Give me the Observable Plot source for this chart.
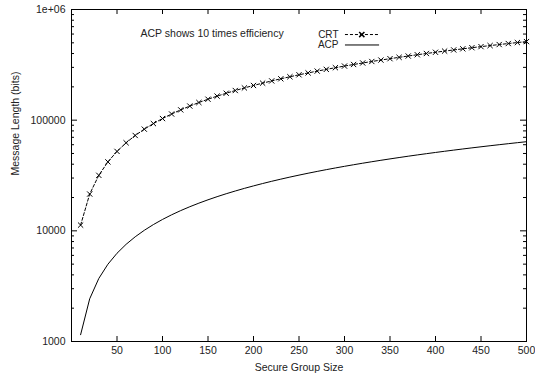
<!DOCTYPE html>
<html><head><meta charset="utf-8">
<script src="https://cdn.jsdelivr.net/npm/d3@7"></script>
<script src="https://cdn.jsdelivr.net/npm/@observablehq/plot@0.6"></script>
<style>body{margin:0;background:#fff}</style>
</head><body><div id="chart"></div>
<script>
const groupSize = [10,20,30,40,50,60,70,80,90,100,110,120,130,140,150,160,170,180,190,200,210,220,230,240,250,260,270,280,290,300,310,320,330,340,350,360,370,380,390,400,410,420,430,440,450,460,470,480,490,500];
const crtBits = [11264,21504,31744,41984,52224,62464,72704,82944,93184,103424,113664,123904,134144,144384,154624,164864,175104,185344,195584,205824,216064,226304,236544,246784,257024,267264,277504,287744,297984,308224,318464,328704,338944,349184,359424,369664,379904,390144,400384,410624,420864,431104,441344,451584,461824,472064,482304,492544,502784,513024];
const acpBits = [1152,2432,3712,4992,6272,7552,8832,10112,11392,12672,13952,15232,16512,17792,19072,20352,21632,22912,24192,25472,26752,28032,29312,30592,31872,33152,34432,35712,36992,38272,39552,40832,42112,43392,44672,45952,47232,48512,49792,51072,52352,53632,54912,56192,57472,58752,60032,61312,62592,63872];
const xTicks = [50,100,150,200,250,300,350,400,450,500];
const yMajor = [1000,10000,100000,1000000];
const yTickLabels = ["1000","10000","100000","1e+06"];
const yMinor = [2000,3000,4000,5000,6000,7000,8000,9000,20000,30000,40000,50000,60000,70000,80000,90000,200000,300000,400000,500000,600000,700000,800000,900000];
const seriesNames = ["CRT","ACP"];
const titleText = "ACP shows 10 times efficiency";
const xLabel = "Secure Group Size";
const yLabel = "Message Length (bits)";

const W = 535, H = 375, mL = 71, mR = 9, mT = 9, mB = 34;
const iW = W - mL - mR, iH = H - mT - mB;
const crt = groupSize.map((x, i) => ({x, y: crtBits[i]}));
const acp = groupSize.map((x, i) => ({x, y: acpBits[i]}));

const chart = Plot.plot({
  width: W, height: H,
  marginLeft: mL, marginRight: mR, marginTop: mT, marginBottom: mB,
  style: {fontFamily: "'Liberation Sans', Arial, Helvetica, sans-serif", fontSize: "10.5px", color: "black", background: "white"},
  x: {domain: [0, 500], label: null, axis: null},
  y: {type: "log", domain: [1000, 1000000], label: null, axis: null},
  marks: [
    Plot.axisX(xTicks, {tickSize: 0, tickPadding: 5, label: null, fill: "#222"}),
    Plot.axisY(yMajor, {tickSize: 0, tickPadding: 6, label: null, tickFormat: d => yTickLabels[yMajor.indexOf(d)], fill: "#222"}),
    Plot.tickX(xTicks, {x: d => d, insetTop: iH - 5, stroke: "black"}),
    Plot.tickX(xTicks, {x: d => d, insetBottom: iH - 5, stroke: "black"}),
    Plot.tickY(yMajor, {y: d => d, insetRight: iW - 6, stroke: "black"}),
    Plot.tickY(yMajor, {y: d => d, insetLeft: iW - 6, stroke: "black"}),
    Plot.tickY(yMinor, {y: d => d, insetRight: iW - 3, stroke: "black"}),
    Plot.tickY(yMinor, {y: d => d, insetLeft: iW - 3, stroke: "black"}),
    Plot.line(acp, {x: "x", y: "y", stroke: "black", strokeWidth: 1}),
    Plot.line(crt, {x: "x", y: "y", stroke: "black", strokeWidth: 1, strokeDasharray: "3,2"}),
    Plot.dot(crt, {x: "x", y: "y", symbol: "times", r: 2.5, stroke: "black", strokeWidth: 1}),
    Plot.text([titleText], {frameAnchor: "top-left", lineAnchor: "middle", dx: 69, dy: 24, textAnchor: "start", text: d => d, fill: "#222"}),
    Plot.text([seriesNames[0]], {frameAnchor: "top-left", lineAnchor: "middle", dx: 267, dy: 25, textAnchor: "end", text: d => d, fill: "#222", fontSize: 10}),
    Plot.text([seriesNames[1]], {frameAnchor: "top-left", lineAnchor: "middle", dx: 267, dy: 35.5, textAnchor: "end", text: d => d, fill: "#222", fontSize: 10}),
    Plot.link([{x1: 300.5, x2: 338, y: 594000}], {x1: "x1", x2: "x2", y1: "y", y2: "y", stroke: "black", strokeDasharray: "3,2"}),
    Plot.dot([{x: 319, y: 594000}], {x: "x", y: "y", symbol: "times", r: 2.5, stroke: "black"}),
    Plot.link([{x1: 300.5, x2: 338, y: 478000}], {x1: "x1", x2: "x2", y1: "y", y2: "y", stroke: "black"}),
    Plot.text([xLabel], {frameAnchor: "bottom", lineAnchor: "middle", dy: 26, text: d => d, fill: "#222"}),
    Plot.text([yLabel], {frameAnchor: "left", lineAnchor: "middle", dx: -56, rotate: -90, text: d => d, fill: "#222"}),
    Plot.frame({stroke: "black", strokeWidth: 1})
  ]
});
document.getElementById("chart").appendChild(chart);
</script>
</body></html>
